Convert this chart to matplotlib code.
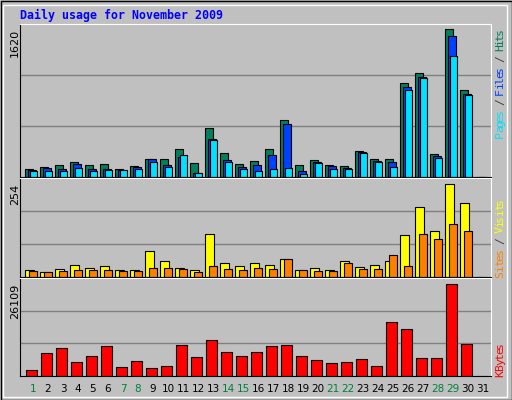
import matplotlib
matplotlib.use("Agg")
import matplotlib.pyplot as plt
from matplotlib.patches import Rectangle

days = list(range(1, 32))
hits  = [92,114,136,169,136,147,92,125,202,202,312,158,531,268,147,180,312,619,136,191,136,125,290,202,202,1026,1136,257,1620,949,0]
files = [81,103,92,147,92,92,81,114,202,136,224,48,421,191,114,136,246,575,70,169,125,103,279,180,169,982,1092,235,1543,905,0]
pages = [70,70,70,103,70,81,81,92,169,114,246,48,410,169,92,70,92,103,37,158,92,92,268,169,114,949,1081,213,1323,894,0]
visits = [20,15,23,34,26,31,20,20,72,45,26,20,119,37,31,37,34,48,20,26,20,45,28,34,45,116,191,125,254,202,0]
sites  = [17,15,17,20,20,20,17,17,26,26,23,15,31,23,20,26,23,50,20,17,17,37,23,23,59,31,119,103,144,125,0]
kbytes = [1811,6670,8100,4098,5813,8672,2668,4384,2382,2954,8958,5527,10387,6957,5813,6957,8672,8958,5813,4669,3812,4098,4955,2954,15247,13246,5241,5241,26109,9243,0]
weekend = [1,7,8,14,15,21,22,28,29]
max_labels = ["1620", "254", "26109"]

W, H = 512, 400
fig = plt.figure(figsize=(W/100, H/100), dpi=100, facecolor="#C0C0C0")

def px(x0, y0, x1, y1):
    return [x0/W, 1-y1/H, (x1-x0)/W, (y1-y0)/H]

fig.add_artist(Rectangle((0.5/W, 0.5/H), 1-1/W, 1-1/H, transform=fig.transFigure, fill=False, ec="black", lw=1))
fig.add_artist(Rectangle((3/W, 3/H), 1-8/W, 1-8/H, transform=fig.transFigure, fill=False, ec="white", lw=1))

fig.text(20/W, 1-15/H, "Daily usage for November 2009", color="#0000FF", family="DejaVu Sans Mono",
         fontweight="bold", fontsize=8.4, va="center", ha="left")

xlo, xhi = 1-13/15, 1+(491-33)/15

def panel(rect, top):
    ax = fig.add_axes(px(*rect))
    ax.set_facecolor("#C0C0C0")
    ax.set_xlim(xlo, xhi)
    ax.set_ylim(0, top)
    ax.set_xticks([]); ax.set_yticks([])
    for y in (top/3, 2*top/3):
        ax.axhline(y, color="#808080", lw=1, zorder=0)
    for s in ("left", "bottom"):
        ax.spines[s].set_color("black")
    for s in ("top", "right"):
        ax.spines[s].set_color("white")
    return ax

ax1 = panel((20, 24, 491, 177), 1620*152/147)
ax1.bar([d - 0.53 for d in days], hits, width=0.55, align="edge", color="#00805C", ec="black", lw=0.8)
ax1.bar([d - 0.33 for d in days], files, width=0.53, align="edge", color="#0040FF", ec="black", lw=0.8)
ax1.bar([d - 0.20 for d in days], pages, width=0.44, align="edge", color="#00E0FF", ec="black", lw=0.8)

ax2 = panel((20, 178, 491, 277), 254*99/92.7)
ax2.bar([d - 0.53 for d in days], visits, width=0.6, align="edge", color="#FFFF00", ec="black", lw=0.8)
ax2.bar([d - 0.27 for d in days], sites, width=0.51, align="edge", color="#FF8000", ec="black", lw=0.8)

ax3 = panel((20, 278, 491, 376), 26109*98/91.7)
ax3.bar([d - 0.44 for d in days], kbytes, width=0.68, align="edge", color="#FF0000", ec="black", lw=0.8)

for lab, ytop in zip(max_labels, (29, 184, 284)):
    fig.text(15/W, 1-ytop/H, lab, rotation=90, ha="center", va="top", fontsize=8, color="black")

for d in days:
    xp = 33 + (d-1)*15
    fig.text(xp/W, 1-389/H, str(d), ha="center", va="center", fontsize=7.5,
             color="#008040" if d in weekend else "black")

def vlabel(ybottom, parts, step):
    off = 0
    for txt, col in parts:
        for ch in txt:
            if ch != " ":
                fig.text(500/W, 1-(ybottom - off*step - step/2)/H, ch, rotation=90, ha="center", va="center",
                         family="DejaVu Sans Mono", fontsize=8.2, color=col)
            off += 1

vlabel(137, [("Pages", "#00E0FF"), (" / ", "#404040"), ("Files", "#0040FF"), (" / ", "#404040"), ("Hits", "#00805C")], 5.4)
vlabel(277, [("Sites", "#FF8000"), (" / ", "#404040"), ("Visits", "#FFFF00")], 5.6)
vlabel(376, [("KBytes", "#FF0000")], 5.6)

fig.savefig("out.png", dpi=100, facecolor="#C0C0C0")
